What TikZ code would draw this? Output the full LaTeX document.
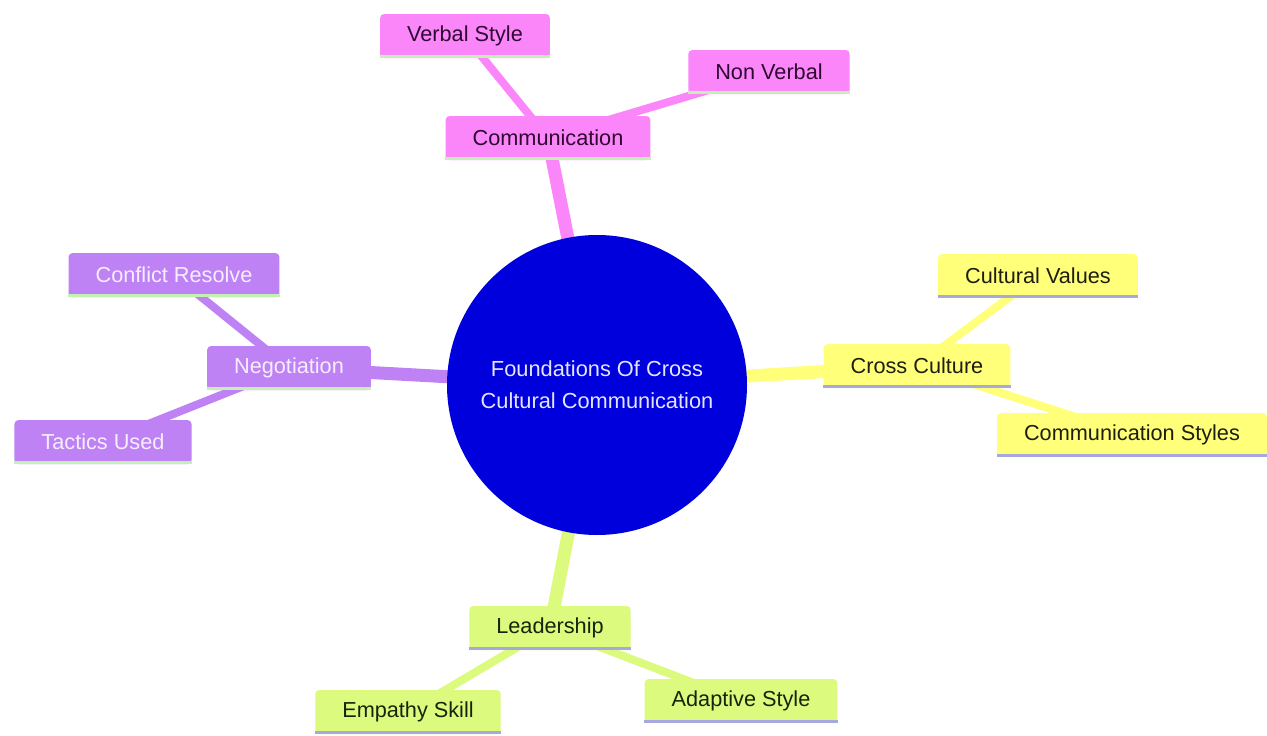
\documentclass[tikz,border=0pt]{standalone}
\usepackage{fontspec}
\setmainfont{Liberation Sans}
\usetikzlibrary{backgrounds}
\definecolor{cpink}{HTML}{FA86FA}
\definecolor{cpurple}{HTML}{BE82F5}
\definecolor{cyellow}{HTML}{FFFF7A}
\definecolor{cgreen}{HTML}{DCFA7E}
\definecolor{cblue}{HTML}{0000DC}
\definecolor{ulgreen}{HTML}{C4F0B4}
\definecolor{ullav}{HTML}{A8A8E0}
\definecolor{tpink}{HTML}{2E0830}
\definecolor{tdark}{HTML}{1E1E10}
\definecolor{tgreen}{HTML}{16240A}
\definecolor{tpurple}{HTML}{F6EEFF}
\definecolor{tcircle}{HTML}{E4E4FF}
\begin{document}
\begin{tikzpicture}[x=1pt,y=-1pt,
  box/.style={rounded corners=4pt, minimum height=44pt, inner xsep=27pt, inner ysep=0pt,
    font=\fontsize{21.7}{26}\selectfont},
  pinkbox/.style={box, fill=cpink, text=tpink},
  purplebox/.style={box, fill=cpurple, text=tpurple},
  yellowbox/.style={box, fill=cyellow, text=tdark},
  greenbox/.style={box, fill=cgreen, text=tgreen},
  trunk/.style={line width=13pt},
  twig/.style={line width=8pt},
  ul/.style={line width=3pt}]
\useasboundingbox (0,0) rectangle (1267,736);
% nodes
\node[circle, fill=cblue, minimum size=300pt, inner sep=0pt, text=tcircle, align=center,
  font=\fontsize{21.8}{32}\selectfont] (root) at (597,385) {Foundations Of Cross\\Cultural Communication};
\node[pinkbox] (com) at (548,138) {Communication};
\node[pinkbox] (vs) at (465,36) {Verbal Style};
\node[pinkbox] (nv) at (769,72) {Non Verbal};
\node[yellowbox] (cc) at (917,366) {Cross Culture};
\node[yellowbox] (cv) at (1038,276) {Cultural Values};
\node[yellowbox] (cs) at (1132,435) {Communication Styles};
\node[purplebox] (neg) at (289,368) {Negotiation};
\node[purplebox] (cr) at (174,275) {Conflict Resolve};
\node[purplebox] (tu) at (103,442) {Tactics Used};
\node[greenbox] (lead) at (550,628) {Leadership};
\node[greenbox] (es) at (408,712) {Empathy Skill};
\node[greenbox] (as) at (741,701) {Adaptive Style};
% underlines
\foreach \n/\c in {com/ulgreen, vs/ulgreen, nv/ulgreen, neg/ulgreen, cr/ulgreen, tu/ulgreen,
  cc/ullav, cv/ullav, cs/ullav, lead/ullav, es/ullav, as/ullav}
  \draw[ul, \c] ([yshift=1.5pt]\n.south west) -- ([yshift=1.5pt]\n.south east);
% connectors (behind nodes)
\begin{scope}[on background layer]
\fill[white] (0,0) rectangle (1267,736);
\draw[trunk, cpink] (root.center) -- (com.center);
\draw[twig, cpink] (com.center) -- (vs.center);
\draw[twig, cpink] (com.center) -- (nv.center);
\draw[trunk, cyellow] (root.center) -- (cc.center);
\draw[twig, cyellow] (cc.center) -- (cv.center);
\draw[twig, cyellow] (cc.center) -- (cs.center);
\draw[trunk, cpurple] (root.center) -- (neg.center);
\draw[twig, cpurple] (neg.center) -- (cr.center);
\draw[twig, cpurple] (neg.center) -- (tu.center);
\draw[trunk, cgreen] (root.center) -- (lead.center);
\draw[twig, cgreen] (lead.center) -- (es.center);
\draw[twig, cgreen] (lead.center) -- (as.center);
\end{scope}
\end{tikzpicture}
\end{document}
